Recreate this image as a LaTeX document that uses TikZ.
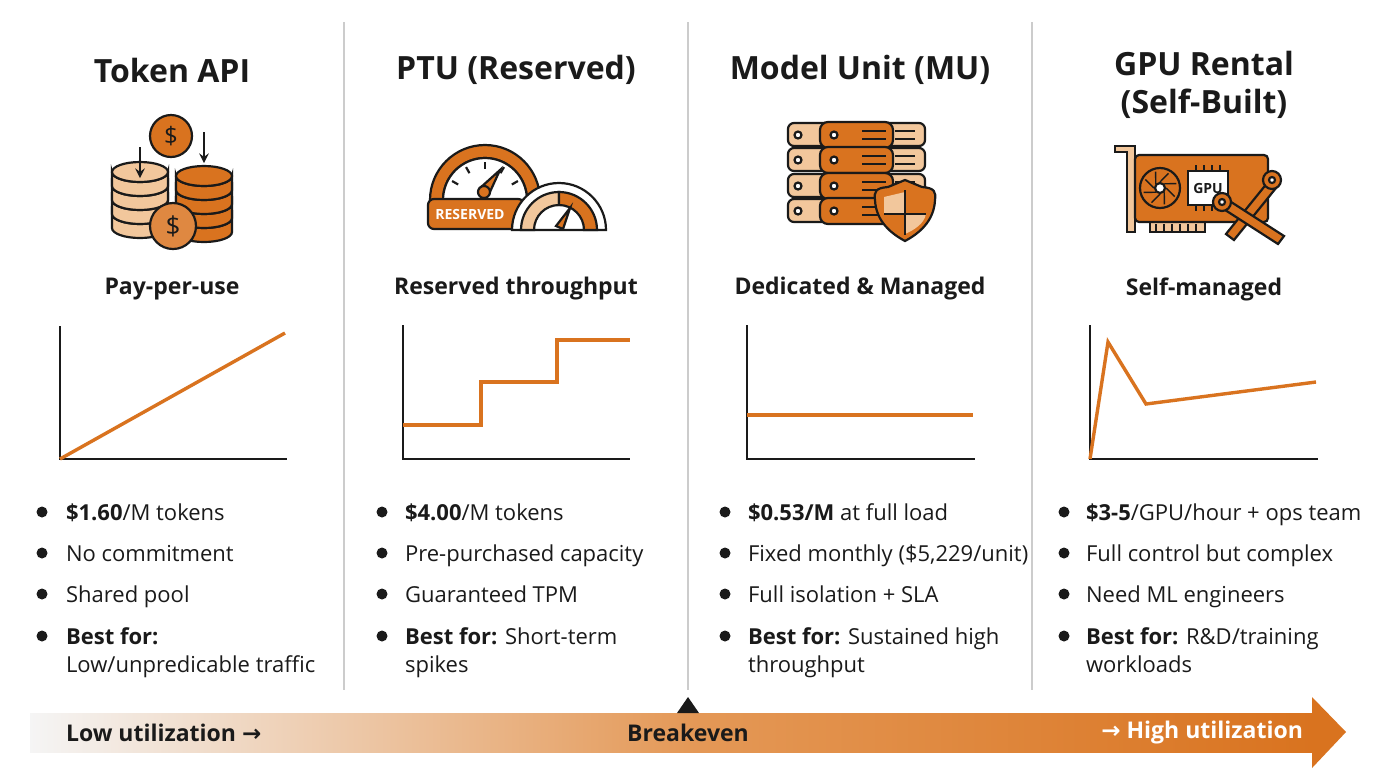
\documentclass[tikz,border=0pt]{standalone}
\usepackage{fontspec}
\setmainfont{Open Sans}
\newfontfamily\dv{DejaVu Sans}
\usetikzlibrary{shapes.geometric,calc}
\definecolor{org}{HTML}{D9731F}
\definecolor{lor}{HTML}{F2C79C}
\definecolor{ink}{HTML}{1A1A1A}
\tikzset{
 ttl/.style={font=\fontsize{16}{19}\selectfont\bfseries, text=ink, align=center},
 sub/.style={font=\fontsize{11.5}{14}\selectfont\bfseries, text=ink},
 itm/.style={font=\fontsize{11}{14}\selectfont, text=ink, anchor=base west, align=left},
 dot/.style={circle, fill=ink, inner sep=0pt, minimum size=5.5pt},
 axis/.style={draw=ink, line width=1pt},
 curve/.style={draw=org, line width=1.7pt},
 ic/.style={draw=ink, line width=1.1pt},
 divider/.style={draw=gray!40, line width=0.7pt}
}
\begin{document}
\begin{tikzpicture}[x=0.5pt,y=-0.5pt]
\useasboundingbox (0,0) rectangle (1376,768);
\fill[white] (0,0) rectangle (1376,768);
% dividers
\foreach \x in {344,688,1032} \draw[divider] (\x,22) -- (\x,690);
% titles
\node[ttl] (t1) at (172,70) {Token API};
\node[ttl] (t2) at (516,70) {PTU (Reserved)};
\node[ttl] (t3) at (860,70) {Model Unit (MU)};
\node[ttl] (t4) at (1204,85) {GPU Rental\\(Self-Built)};
% subtitles
\node[sub] (s1) at (172,289) {Pay-per-use};
\node[sub] (s2) at (516,289) {Reserved throughput};
\node[sub] (s3) at (860,289) {Dedicated \& Managed};
\node[sub] (s4) at (1204,289) {Self-managed};
% charts
\draw[axis] (60,326) -- (60,459) -- (287,459);
\draw[curve] (60,459) -- (285,333);
\draw[axis] (403,325) -- (403,459) -- (630,459);
\draw[curve] (403,425) -- (481,425) -- (481,382) -- (557,382) -- (557,340) -- (630,340);
\draw[axis] (747,325) -- (747,459) -- (975,459);
\draw[curve] (747,415) -- (973,415);
\draw[axis] (1090,325) -- (1090,459) -- (1318,459);
\draw[curve, line join=miter] (1090,459) -- (1108,342) -- (1146,404) -- (1316,382);
% bullets
\foreach \bx in {42,382,725,1064}{
  \foreach \y in {512,553,594,636} \node[dot] at (\bx,\y) {};
}
\node[itm] (a1) at (59,520) {\textbf{\$1.60}/M tokens};
\node[itm] (a2) at (59,561) {No commitment};
\node[itm] (a3) at (59,602) {Shared pool};
\node[itm] (a4) at (59,672) {\textbf{Best for:}\\Low/unpredicable traffic};
\node[itm] (b1) at (398,520) {\textbf{\$4.00}/M tokens};
\node[itm] (b2) at (398,561) {Pre-purchased capacity};
\node[itm] (b3) at (398,602) {Guaranteed TPM};
\node[itm] (b4) at (398,672) {\textbf{Best for:} Short-term\\spikes};
\node[itm] (c1) at (741,520) {\textbf{\$0.53/M} at full load};
\node[itm] (c2) at (741,561) {Fixed monthly (\$5,229/unit)};
\node[itm] (c3) at (741,602) {Full isolation + SLA};
\node[itm] (c4) at (741,672) {\textbf{Best for:} Sustained high\\throughput};
\node[itm] (d1) at (1079,520) {\textbf{\$3-5}/GPU/hour + ops team};
\node[itm] (d2) at (1079,561) {Full control but complex};
\node[itm] (d3) at (1079,602) {Need ML engineers};
\node[itm] (d4) at (1079,672) {\textbf{Best for:} R\&D/training\\workloads};
% bottom arrow
\shade[left color=gray!8, right color=org!55!lor] (30,713) rectangle (688,752);
\shade[left color=org!55!lor, right color=org] (688,713) rectangle (1313,752);
\fill[org] (1312,697) -- (1346,732) -- (1312,768) -- cycle;
\fill[ink] (677,713) -- (688,697) -- (699,713) -- cycle;
\node[sub, anchor=west] (low) at (59,733) {Low utilization {\dv →}};
\node[sub] (be) at (688,733) {Breakeven};
\node[sub, text=white, anchor=east] (high) at (1310,733) {{\dv →} High utilization};
% icon 1: coins
\begin{scope}
 \foreach \y in {228,214,200,186} {\draw[ic, fill=lor] (112,\y) arc (180:0:28 and 10) -- (168,\y-14) arc (0:180:28 and 10) -- cycle;}
 \draw[ic, fill=lor] (140,172) ellipse (28 and 10);
 \foreach \y in {232,218,204,190} {\draw[ic, fill=org] (176,\y) arc (180:0:28 and 10) -- (232,\y-14) arc (0:180:28 and 10) -- cycle;}
 \draw[ic, fill=org] (204,176) ellipse (28 and 10);
 \draw[ic, fill=org!85] (173,226) circle (23);
 \node[font=\fontsize{13}{13}\selectfont, text=ink] at (173,226) {\$};
 \draw[ic, fill=org] (171,136) circle (21);
 \node[font=\fontsize{12}{12}\selectfont, text=ink] at (171,136) {\$};
 \draw[ic, -stealth] (140,147) -- (140,178);
 \draw[ic, -stealth] (204,132) -- (204,163);
\end{scope}
% icon 2: gauges
\begin{scope}
 \draw[ic, fill=org] (430,200) arc (180:360:55) -- (527,200) arc (360:180:42) -- cycle;
 \draw[ic, fill=white] (443,200) arc (180:360:42) -- cycle;
 \foreach \a in {210,240,270,300,330} \draw[ic] ($(485,200)+(\a:38)$) -- ($(485,200)+(\a:31)$);
 \draw[ic, fill=org] (480,188) -- (500,170) -- (489,194) -- cycle;
 \draw[ic, fill=org] (484,192) circle (6);
 \draw[ic, fill=org, rounded corners=3] (428,199) rectangle (524,229);
 \node[font=\fontsize{7}{8}\selectfont\bfseries, text=white] at (470,214) {RESERVED};
 \draw[ic, fill=white] (512,230) arc (180:360:47) -- cycle;
 \draw[ic, fill=lor] (521,230) arc (180:270:38) -- (559,205) arc (270:180:25) -- cycle;
 \draw[ic, fill=org] (559,192) arc (270:360:38) -- (584,230) arc (360:270:25) -- cycle;
 \draw[ic, fill=org] (556,226) -- (570,208) -- (563,229) -- cycle;
\end{scope}
% icon 3: servers
\begin{scope}
 \foreach \y in {135,160,186,211} {
  \draw[ic, fill=lor, rounded corners=3] (788,\y-12) rectangle (925,\y+11);
  \draw[ic, fill=white] (798,\y) circle (3.5);
  \draw[ic] (895,\y-4) -- (915,\y-4) (895,\y+4) -- (915,\y+4);
 }
 \foreach \y in {135,160,186,211} {
  \draw[ic, fill=org, rounded corners=4] (820,\y-13) rectangle (893,\y+13);
  \draw[ic, fill=white] (834,\y) circle (3.5);
  \draw[ic] (862,\y-4) -- (886,\y-4) (862,\y+4) -- (886,\y+4);
 }
 \draw[ic, fill=org] (905,180) -- (922,187) .. controls (935,188) and (936,192) .. (935,200)
   .. controls (934,222) and (918,234) .. (905,241) .. controls (892,234) and (876,222) .. (875,200)
   .. controls (874,192) and (875,188) .. (888,187) -- cycle;
 \fill[lor] (905,192) -- (905,214) -- (884,214) -- (884,197) -- cycle;
 \fill[lor] (905,214) -- (926,214) .. controls (924,224) and (914,230) .. (905,234) -- cycle;
 \draw[ic] (905,190) -- (905,235) (884,214) -- (926,214);
\end{scope}
% icon 4: GPU card
\begin{scope}
 \draw[ic, fill=lor] (1115,146) -- (1135,146) -- (1135,232) -- (1127,232) -- (1127,152) -- (1115,152) -- cycle;
 \draw[ic, fill=lor] (1150,220) rectangle (1205,232);
 \foreach \x in {1156,1164,...,1200} \draw[ic, line width=0.6pt] (\x,224) -- (\x,232);
 \draw[ic, fill=org, rounded corners=2] (1135,155) rectangle (1268,222);
 \draw[ic, fill=org] (1160,188) circle (20);
 \foreach \a in {0,45,...,315} \draw[ic, line width=0.7pt] ($(1160,188)+(\a:6)$) -- ($(1160,188)+(\a+30:17)$);
 \draw[ic, fill=white] (1160,188) circle (5);
 \foreach \x in {1196,1204,...,1222} \draw[ic, line width=0.7pt] (\x,165) -- (\x,171) (\x,205) -- (\x,211);
 \draw[ic, fill=white] (1188,171) rectangle (1228,205);
 \node[font=\fontsize{7}{8}\selectfont\bfseries, text=ink] at (1208,188) {GPU};
 \draw[ic, fill=org] (1226,234) -- (1268,182) -- (1276,188) -- (1234,240) -- cycle;
 \draw[ic, fill=org] (1228,200) -- (1284,236) -- (1278,244) -- (1222,208) -- cycle;
 \draw[ic, fill=org] (1272,180) circle (9);
 \draw[ic, fill=white] (1272,180) circle (3);
 \draw[ic, fill=org] (1222,202) circle (9);
 \draw[ic, fill=white] (1222,202) circle (3);
\end{scope}
\end{tikzpicture}
\end{document}
